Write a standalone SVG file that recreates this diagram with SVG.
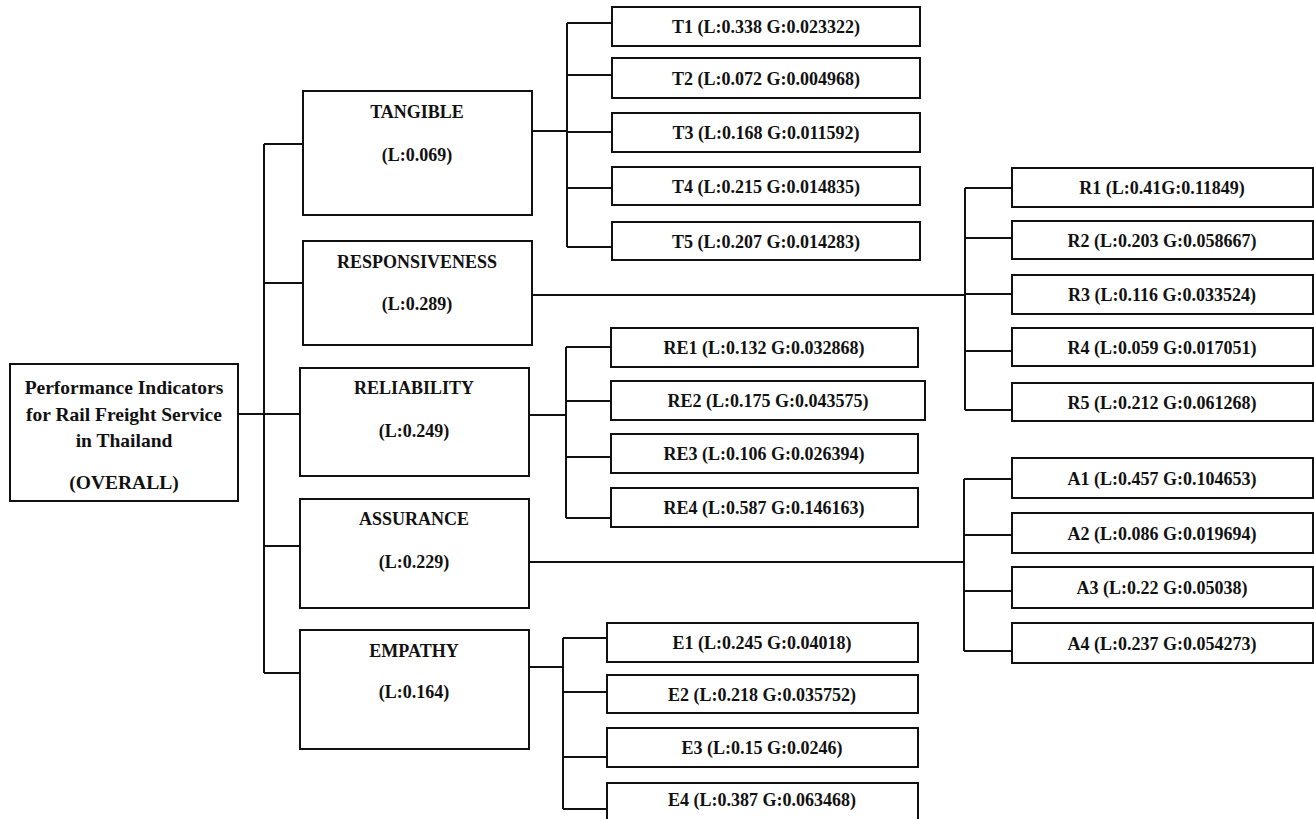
<svg xmlns="http://www.w3.org/2000/svg" width="1314" height="819" viewBox="0 0 1314 819">
<style>
rect{fill:#fff;stroke:#111;stroke-width:2}
text{font-family:"Liberation Serif","Times New Roman",serif;font-weight:bold;fill:#111;text-anchor:middle}
.leaf{font-size:18px}
.cat{font-size:18px}
.root{font-size:19.5px}
#connectors path{fill:none;stroke:#111;stroke-width:2}
</style>
<rect x="0" y="0" width="1314" height="819" style="fill:#fff;stroke:none"/>
<g id="connectors">
<path d="M238 414H264M264 144V673M264 144H303M264 283H303M264 414H300M264 546H300M264 673H300"/>
<path d="M532 131H567M567 23V247M567 23H612M567 75H612M567 132H612M567 188H612M567 247H612"/>
<path d="M532 295H965M965 188V410M965 188H1012M965 238H1012M965 294H1012M965 351H1012M965 410H1012"/>
<path d="M529 415H566M566 347V518M566 347H611M566 401H611M566 457H611M566 518H611"/>
<path d="M529 562H964M964 479V651M964 479H1012M964 535H1012M964 591H1012M964 651H1012"/>
<path d="M529 667H563M563 638V809M563 638H607M563 692H607M563 757H607M563 809H607"/>
</g>
<g id="root"><rect x="10" y="364" width="228" height="137"/>
<text class="root" x="124" y="394">Performance Indicators</text>
<text class="root" x="124" y="421">for Rail Freight Service</text>
<text class="root" x="124" y="447">in Thailand</text>
<text class="root" x="124" y="489">(OVERALL)</text></g>
<g id="tangible"><rect x="303" y="91" width="229" height="124"/><text class="cat" x="417" y="118">TANGIBLE</text><text class="cat" x="417" y="161">(L:0.069)</text></g>
<g id="responsiveness"><rect x="303" y="241" width="229" height="104"/><text class="cat" x="417" y="268">RESPONSIVENESS</text><text class="cat" x="417" y="310">(L:0.289)</text></g>
<g id="reliability"><rect x="300" y="368" width="229" height="108"/><text class="cat" x="414" y="394">RELIABILITY</text><text class="cat" x="414" y="437">(L:0.249)</text></g>
<g id="assurance"><rect x="300" y="499" width="229" height="109"/><text class="cat" x="414" y="525">ASSURANCE</text><text class="cat" x="414" y="568">(L:0.229)</text></g>
<g id="empathy"><rect x="300" y="630" width="229" height="119"/><text class="cat" x="414" y="657">EMPATHY</text><text class="cat" x="414" y="698">(L:0.164)</text></g>
<g id="t1"><rect x="612" y="7" width="308" height="39"/><text class="leaf" x="766" y="33">T1 (L:0.338 G:0.023322)</text></g>
<g id="t2"><rect x="612" y="58" width="308" height="40"/><text class="leaf" x="766" y="85">T2 (L:0.072 G:0.004968)</text></g>
<g id="t3"><rect x="612" y="113" width="308" height="39"/><text class="leaf" x="766" y="139">T3 (L:0.168 G:0.011592)</text></g>
<g id="t4"><rect x="612" y="167" width="308" height="38"/><text class="leaf" x="766" y="193">T4 (L:0.215 G:0.014835)</text></g>
<g id="t5"><rect x="612" y="222" width="308" height="38"/><text class="leaf" x="766" y="248">T5 (L:0.207 G:0.014283)</text></g>
<g id="r1"><rect x="1012" y="168" width="301" height="39"/><text class="leaf" x="1162" y="194">R1 (L:0.41G:0.11849)</text></g>
<g id="r2"><rect x="1012" y="221" width="301" height="38"/><text class="leaf" x="1162" y="247">R2 (L:0.203 G:0.058667)</text></g>
<g id="r3"><rect x="1012" y="275" width="301" height="39"/><text class="leaf" x="1162" y="301">R3 (L:0.116 G:0.033524)</text></g>
<g id="r4"><rect x="1012" y="328" width="301" height="38"/><text class="leaf" x="1162" y="354">R4 (L:0.059 G:0.017051)</text></g>
<g id="r5"><rect x="1012" y="383" width="301" height="38"/><text class="leaf" x="1162" y="409">R5 (L:0.212 G:0.061268)</text></g>
<g id="re1"><rect x="611" y="328" width="307" height="39"/><text class="leaf" x="764" y="354">RE1 (L:0.132 G:0.032868)</text></g>
<g id="re2"><rect x="611" y="381" width="314" height="39"/><text class="leaf" x="768" y="407">RE2 (L:0.175 G:0.043575)</text></g>
<g id="re3"><rect x="611" y="434" width="307" height="39"/><text class="leaf" x="764" y="460">RE3 (L:0.106 G:0.026394)</text></g>
<g id="re4"><rect x="611" y="488" width="307" height="39"/><text class="leaf" x="764" y="514">RE4 (L:0.587 G:0.146163)</text></g>
<g id="a1"><rect x="1012" y="458" width="301" height="40"/><text class="leaf" x="1162" y="485">A1 (L:0.457 G:0.104653)</text></g>
<g id="a2"><rect x="1012" y="513" width="301" height="40"/><text class="leaf" x="1162" y="540">A2 (L:0.086 G:0.019694)</text></g>
<g id="a3"><rect x="1012" y="567" width="301" height="41"/><text class="leaf" x="1162" y="594">A3 (L:0.22 G:0.05038)</text></g>
<g id="a4"><rect x="1012" y="623" width="301" height="40"/><text class="leaf" x="1162" y="650">A4 (L:0.237 G:0.054273)</text></g>
<g id="e1"><rect x="607" y="623" width="311" height="39"/><text class="leaf" x="762" y="649">E1 (L:0.245 G:0.04018)</text></g>
<g id="e2"><rect x="607" y="675" width="311" height="38"/><text class="leaf" x="762" y="701">E2 (L:0.218 G:0.035752)</text></g>
<g id="e3"><rect x="607" y="728" width="311" height="39"/><text class="leaf" x="762" y="754">E3 (L:0.15 G:0.0246)</text></g>
<g id="e4"><rect x="607" y="783" width="311" height="40"/><text class="leaf" x="762" y="806">E4 (L:0.387 G:0.063468)</text></g>
</svg>
